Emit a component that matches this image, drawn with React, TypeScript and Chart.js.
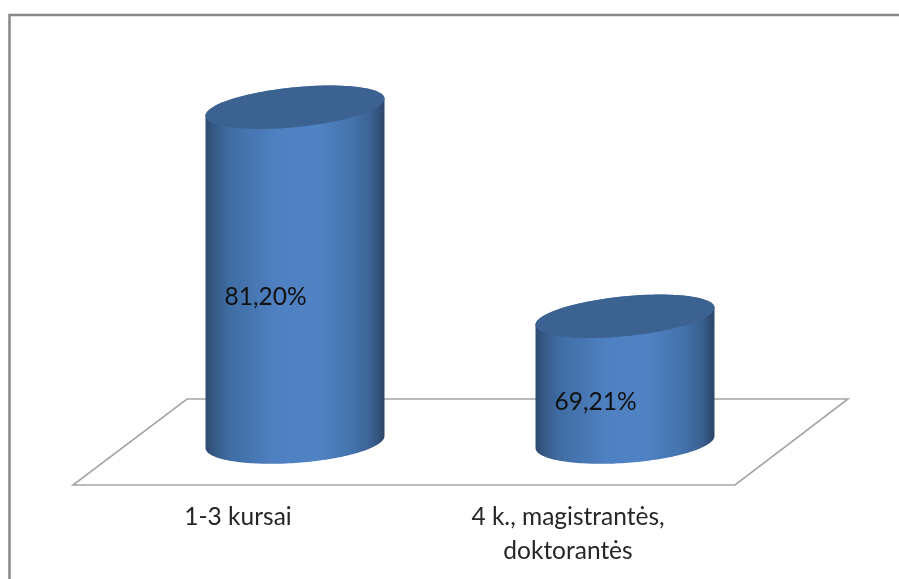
import React, { useEffect, useRef } from "react";
import { Chart, registerables } from "chart.js";

Chart.register(...registerables);

const categories: (string | string[])[] = ["1-3 kursai", ["4 k., magistrantės,", "doktorantės"]];
const values = [81.2, 69.21];
const valueLabels = ["81,20%", "69,21%"];
const axisMin = 62;
const axisMax = 85;

const W = 899;
const H = 579;
const FONT = "Lato, 'Open Sans', sans-serif";
const DEPTH_X = 57;
const DEPTH_Y = 43;

type Ell = { cx: number; cy: number; a: number; b: number; k: number };

const ellPoint = (e: Ell, t: number): [number, number] => [
  e.cx + e.a * Math.cos(t),
  e.cy + e.k * Math.cos(t) + e.b * Math.sin(t),
];

const trace = (ctx: CanvasRenderingContext2D, e: Ell, from: number, to: number, start: boolean) => {
  const n = 90;
  for (let i = 0; i <= n; i++) {
    const [x, y] = ellPoint(e, from + ((to - from) * i) / n);
    if (i === 0 && start) ctx.moveTo(x, y);
    else ctx.lineTo(x, y);
  }
};

const cylinderPlugin = {
  id: "cylinder",
  beforeDraw(chart: any) {
    const { ctx } = chart;
    ctx.save();
    ctx.fillStyle = "#ffffff";
    ctx.fillRect(0, 0, W, H);
    ctx.strokeStyle = "#888888";
    ctx.lineWidth = 2.5;
    ctx.beginPath();
    ctx.moveTo(9.5, H + 5);
    ctx.lineTo(9.5, 15);
    ctx.lineTo(W + 5, 15);
    ctx.stroke();
    ctx.restore();
  },
  beforeDatasetsDraw(chart: any) {
    const { ctx, chartArea: ca } = chart;
    ctx.save();
    ctx.strokeStyle = "#a6a6a6";
    ctx.lineWidth = 1.6;
    ctx.beginPath();
    ctx.moveTo(ca.left - DEPTH_X, ca.bottom + DEPTH_Y);
    ctx.lineTo(ca.right - DEPTH_X + 2, ca.bottom + DEPTH_Y);
    ctx.lineTo(ca.right + DEPTH_X + 1, ca.bottom - DEPTH_Y);
    ctx.lineTo(ca.left + DEPTH_X, ca.bottom - DEPTH_Y);
    ctx.closePath();
    ctx.stroke();
    ctx.restore();
  },
  afterDatasetsDraw(chart: any) {
    const { ctx } = chart;
    const meta = chart.getDatasetMeta(0);
    meta.data.forEach((el: any, i: number) => {
      const a = el.width / 2;
      const top: Ell = { cx: el.x, cy: el.y, a, b: 20, k: -8.5 };
      const bottom: Ell = { cx: el.x, cy: el.base, a, b: 21, k: -6 };
      const g = ctx.createLinearGradient(el.x - a, 0, el.x + a, 0);
      g.addColorStop(0, "#2d4a70");
      g.addColorStop(0.05, "#365a86");
      g.addColorStop(0.13, "#3f6ca3");
      g.addColorStop(0.4, "#4f81c2");
      g.addColorStop(0.62, "#5083c4");
      g.addColorStop(0.82, "#4473ac");
      g.addColorStop(0.93, "#3a6090");
      g.addColorStop(1, "#2b4566");
      ctx.save();
      ctx.beginPath();
      trace(ctx, top, Math.PI, Math.PI * 1.5, true);
      trace(ctx, top, Math.PI * 1.5, Math.PI * 2, false);
      trace(ctx, bottom, 0, Math.PI, false);
      ctx.closePath();
      ctx.fillStyle = g;
      ctx.fill();
      ctx.beginPath();
      trace(ctx, top, 0, Math.PI * 2, true);
      ctx.closePath();
      ctx.fillStyle = "#3c6291";
      ctx.fill();
      ctx.fillStyle = "#111111";
      ctx.font = `24.5px ${FONT}`;
      ctx.textAlign = "center";
      ctx.textBaseline = "middle";
      ctx.fillText(valueLabels[i], el.x - 29.5, (el.y + el.base) / 2 + 22.5);
      ctx.restore();
    });
  },
};

export default function App() {
  const ref = useRef<HTMLCanvasElement>(null);
  useEffect(() => {
    const chart = new Chart(ref.current as HTMLCanvasElement, {
      type: "bar",
      data: {
        labels: categories as any,
        datasets: [
          {
            data: values,
            base: axisMin,
            backgroundColor: "transparent",
            barPercentage: 0.5424,
            categoryPercentage: 1,
          },
        ],
      },
      options: {
        responsive: false,
        animation: false,
        devicePixelRatio: 1,
        layout: { padding: { left: 130, right: 109, top: 41, bottom: 0 } },
        plugins: { legend: { display: false }, tooltip: { enabled: false } },
        scales: {
          x: {
            grid: { display: false, drawTicks: false },
            border: { display: false },
            afterFit: (s: any) => {
              s.height = 137;
            },
            ticks: {
              padding: 59,
              labelOffset: -57,
              maxRotation: 0,
              color: "#262626",
              font: { family: FONT, size: 24.5, lineHeight: 1.35 },
            },
          },
          y: { display: false, min: axisMin, max: axisMax },
        },
      } as any,
      plugins: [cylinderPlugin],
    });
    return () => chart.destroy();
  }, []);
  return (
    <canvas
      ref={ref}
      width={W}
      height={H}
      style={{ position: "absolute", left: 0, top: 0, display: "block" }}
    />
  );
}
